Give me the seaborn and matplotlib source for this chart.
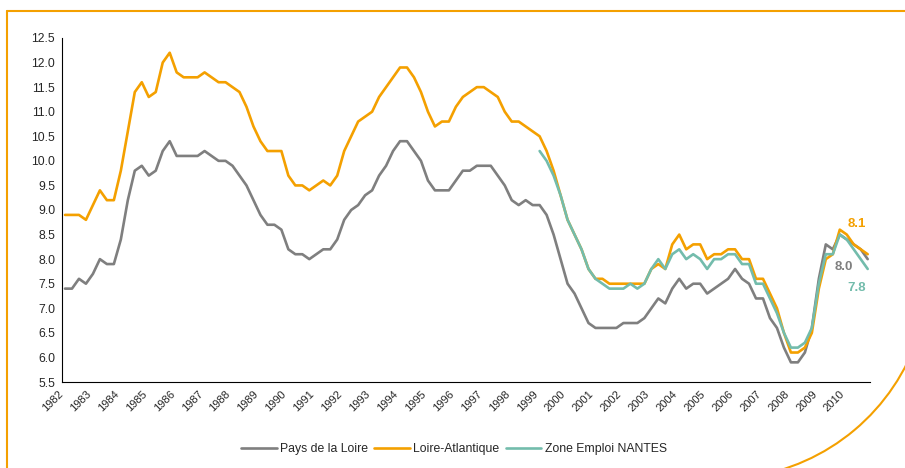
import numpy as np
import pandas as pd
import seaborn as sns
import matplotlib.pyplot as plt
import matplotlib.patches as mpatches
import matplotlib.transforms as mtransforms
from matplotlib.lines import Line2D

# quarterly series, 1982 T1 -> 2010 T4
years = list(range(1982, 2011))
quarters = [f"{y}T{q}" for y in years for q in range(1, 5)]

pays_loire = [
    7.4, 7.4, 7.6, 7.5, 7.7, 8.0, 7.9, 7.9, 8.4, 9.2, 9.8, 9.9, 9.7, 9.8, 10.2, 10.4,
    10.1, 10.1, 10.1, 10.1, 10.2, 10.1, 10.0, 10.0, 9.9, 9.7, 9.5, 9.2, 8.9, 8.7, 8.7, 8.6,
    8.2, 8.1, 8.1, 8.0, 8.1, 8.2, 8.2, 8.4, 8.8, 9.0, 9.1, 9.3, 9.4, 9.7, 9.9, 10.2,
    10.4, 10.4, 10.2, 10.0, 9.6, 9.4, 9.4, 9.4, 9.6, 9.8, 9.8, 9.9, 9.9, 9.9, 9.7, 9.5,
    9.2, 9.1, 9.2, 9.1, 9.1, 8.9, 8.5, 8.0, 7.5, 7.3, 7.0, 6.7, 6.6, 6.6, 6.6, 6.6,
    6.7, 6.7, 6.7, 6.8, 7.0, 7.2, 7.1, 7.4, 7.6, 7.4, 7.5, 7.5, 7.3, 7.4, 7.5, 7.6,
    7.8, 7.6, 7.5, 7.2, 7.2, 6.8, 6.6, 6.2, 5.9, 5.9, 6.1, 6.6, 7.6, 8.3, 8.2, 8.5,
    8.4, 8.3, 8.2, 8.0,
]
loire_atlantique = [
    8.9, 8.9, 8.9, 8.8, 9.1, 9.4, 9.2, 9.2, 9.8, 10.6, 11.4, 11.6, 11.3, 11.4, 12.0, 12.2,
    11.8, 11.7, 11.7, 11.7, 11.8, 11.7, 11.6, 11.6, 11.5, 11.4, 11.1, 10.7, 10.4, 10.2, 10.2, 10.2,
    9.7, 9.5, 9.5, 9.4, 9.5, 9.6, 9.5, 9.7, 10.2, 10.5, 10.8, 10.9, 11.0, 11.3, 11.5, 11.7,
    11.9, 11.9, 11.7, 11.4, 11.0, 10.7, 10.8, 10.8, 11.1, 11.3, 11.4, 11.5, 11.5, 11.4, 11.3, 11.0,
    10.8, 10.8, 10.7, 10.6, 10.5, 10.2, 9.8, 9.3, 8.8, 8.5, 8.2, 7.8, 7.6, 7.6, 7.5, 7.5,
    7.5, 7.5, 7.5, 7.5, 7.8, 7.9, 7.8, 8.3, 8.5, 8.2, 8.3, 8.3, 8.0, 8.1, 8.1, 8.2,
    8.2, 8.0, 8.0, 7.6, 7.6, 7.3, 7.0, 6.5, 6.1, 6.1, 6.2, 6.5, 7.4, 8.0, 8.1, 8.6,
    8.5, 8.3, 8.2, 8.1,
]
# Zone Emploi NANTES starts in 1999 T1
nantes_start = "1999T1"
nantes = [
    10.2, 10.0, 9.7, 9.3, 8.8, 8.5, 8.2, 7.8, 7.6, 7.5, 7.4, 7.4, 7.4, 7.5, 7.4, 7.5,
    7.8, 8.0, 7.8, 8.1, 8.2, 8.0, 8.1, 8.0, 7.8, 8.0, 8.0, 8.1, 8.1, 7.9, 7.9, 7.5,
    7.5, 7.2, 6.9, 6.5, 6.2, 6.2, 6.3, 6.6, 7.5, 8.1, 8.1, 8.5, 8.4, 8.2, 8.0, 7.8,
]

names = ["Pays de la Loire", "Loire-Atlantique", "Zone Emploi NANTES"]
colors = ["#7f7f7f", "#f4a000", "#73bcac"]

start = quarters.index(nantes_start)
df = pd.concat([
    pd.DataFrame({"idx": range(len(quarters)), "val": pays_loire, "serie": names[0]}),
    pd.DataFrame({"idx": range(len(quarters)), "val": loire_atlantique, "serie": names[1]}),
    pd.DataFrame({"idx": range(start, start + len(nantes)), "val": nantes, "serie": names[2]}),
])

sns.set_style("white")
plt.rcParams["font.family"] = ["Liberation Sans", "DejaVu Sans"]

fig = plt.figure(figsize=(9.05, 4.68), dpi=100)
ax = fig.add_axes([62 / 905, 1 - 382 / 468, 808 / 905, 344 / 468])

sns.lineplot(data=df, x="idx", y="val", hue="serie", hue_order=names,
             palette=colors, linewidth=1.9, ax=ax, legend=True)

ax.set_xlim(-0.43, len(quarters) - 1 + 0.33)
ax.set_ylim(5.5, 12.5)
ax.set_yticks(np.arange(5.5, 12.51, 0.5))
ax.set_yticklabels([f"{v:.1f}" for v in np.arange(5.5, 12.51, 0.5)], fontsize=8.8)
ax.set_xticks(range(len(quarters)), minor=True)
ax.set_xticks(range(0, len(quarters), 4))
ax.set_xticklabels([str(y) for y in years], rotation=45, ha="right", fontsize=8)
ax.tick_params(axis="x", which="both", direction="out", length=3, width=0.8, color="black", pad=2)
ax.tick_params(axis="y", direction="out", length=3, width=0.8, color="black", pad=2)
ax.set_xlabel("")
ax.set_ylabel("")
for s in ["top", "right"]:
    ax.spines[s].set_visible(False)
for s in ["left", "bottom"]:
    ax.spines[s].set_color("black")
    ax.spines[s].set_linewidth(0.8)

# end-of-series labels
last = len(quarters) - 1
offsets = {names[1]: (-8, 22), names[0]: (-17, -6), names[2]: (-8, -14)}
for name, series, col in zip(names, [pays_loire, loire_atlantique, nantes], colors):
    ax.annotate(f"{series[-1]:.1f}", xy=(last, series[-1]), xytext=offsets[name],
                textcoords="offset points", ha="center", va="center",
                color=col, fontsize=9.5, fontweight="bold")

handles, labels = ax.get_legend_handles_labels()
ax.get_legend().remove()
fig.legend(handles, labels, loc="center", bbox_to_anchor=(454 / 905, 1 - 449 / 468),
           ncol=3, frameon=False, fontsize=8.8, handlelength=2.9, handletextpad=0.3,
           columnspacing=0.5)

# orange frame around the figure
orange = "#f4a000"
fig.add_artist(Line2D([7 / 905, 1], [1 - 11 / 468] * 2, transform=fig.transFigure,
                      color=orange, linewidth=1.5))
fig.add_artist(Line2D([7 / 905] * 2, [0, 1 - 11 / 468], transform=fig.transFigure,
                      color=orange, linewidth=1.5))
fig.add_artist(mpatches.Arc((720, 198), 418, 418, theta1=-82, theta2=-18,
                            transform=mtransforms.IdentityTransform(),
                            color=orange, linewidth=1.5))

fig.savefig("out.png", dpi=100)
